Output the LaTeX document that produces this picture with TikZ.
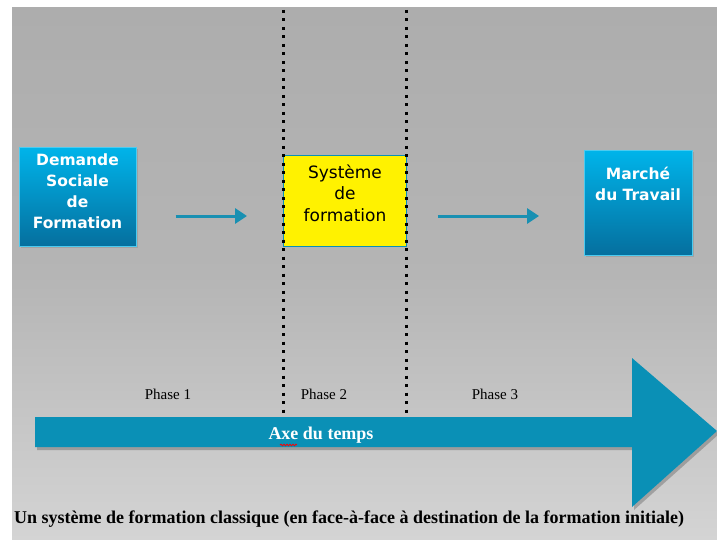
\documentclass[tikz,border=0pt]{standalone}
\usepackage{fontspec}
\setmainfont{Liberation Serif}
\newfontfamily\verd{DejaVu Sans}
\usetikzlibrary{arrows.meta,shadows,decorations.pathmorphing}
\definecolor{bgtop}{HTML}{ADADAD}
\definecolor{bgbot}{HTML}{D4D4D4}
\definecolor{teal}{HTML}{0A90B6}
\definecolor{arrowc}{HTML}{1990B2}
\definecolor{boxtop}{HTML}{00B4EA}
\definecolor{boxbot}{HTML}{056F9E}
\tikzset{
  bluebox/.style={draw=boxtop!70!white, line width=0.6pt, top color=boxtop, bottom color=boxbot,
     anchor=north west, inner sep=0pt,
     drop shadow={shadow xshift=2pt, shadow yshift=-2pt, opacity=0.35}},
  whitetext/.style={text=white, align=center, font=\verd\bfseries\fontsize{15.5}{21}\selectfont},
  yelbox/.style={draw=teal, line width=0.8pt, fill=yellow, anchor=north west, inner sep=0pt},
  blacktext/.style={text=black, align=center, font=\verd\fontsize{17}{21.5}\selectfont},
  conn/.style={draw=arrowc, line width=3pt, -{Triangle[length=12pt,width=15pt]}},
  dotline/.style={draw=black, line width=3pt, dash pattern=on 3pt off 5.5pt},
  phase/.style={font=\fontsize{15}{17}\selectfont, text=black},
}
\begin{document}
\begin{tikzpicture}[x=1pt,y=-1pt]
\useasboundingbox (0,0) rectangle (717,540);
\fill[white] (0,0) rectangle (717,540);
\shade[top color=bgtop, bottom color=bgbot, middle color=bgtop!80!bgbot] (12,8) rectangle (717,540);

% boxes
\node[bluebox, minimum width=117pt, minimum height=99pt] (dsf) at (19,147) {};
\node[whitetext] (dsftext) at (77.5,191) {Demande\\Sociale\\de\\Formation};
\node[yelbox, minimum width=123pt, minimum height=91pt] (sys) at (283,155) {};
\node[blacktext] (systext) at (345,193) {Système\\de\\formation};
\node[bluebox, minimum width=108pt, minimum height=105pt] (mdt) at (584,150) {};
\node[whitetext] (mdttext) at (638,184) {Marché\\du Travail};

% dotted phase separators
\draw[dotline] (283,10) -- (283,416);
\draw[dotline] (406,10) -- (406,416);

% connectors
\coordinate (ay) at (0,216);
\draw[conn, shorten <=39pt, shorten >=36pt] (dsf.east |- ay) -- (sys.west |- ay);
\draw[conn, shorten <=31pt, shorten >=45pt] (sys.east |- ay) -- (mdt.west |- ay);

% time axis
\fill[black, opacity=0.22] (37,420) -- (634,420) -- (634,361) -- (719,434) -- (634,510) -- (634,450) -- (37,450) -- cycle;
\fill[teal] (35,417) -- (632,417) -- (632,358) -- (717,431) -- (632,507) -- (632,447) -- (35,447) -- cycle;
\node[text=white, font=\bfseries\fontsize{18}{20}\selectfont] (axe) at (321,435) {Axe du temps};
\draw[red, line width=0.8pt, decorate, decoration={snake, amplitude=0.8pt, segment length=3pt}] (280,445) -- (297,445);

% phases
\node[phase] (p1) at (168,394) {Phase 1};
\node[phase] (p2) at (324,394) {Phase 2};
\node[phase] (p3) at (495,394) {Phase 3};

% caption
\node[anchor=west, font=\bfseries\fontsize{18}{20}\selectfont, inner sep=0pt] (cap) at (14,519)
  {Un système de formation classique (en face-à-face à destination de la formation initiale)};
\end{tikzpicture}
\end{document}
